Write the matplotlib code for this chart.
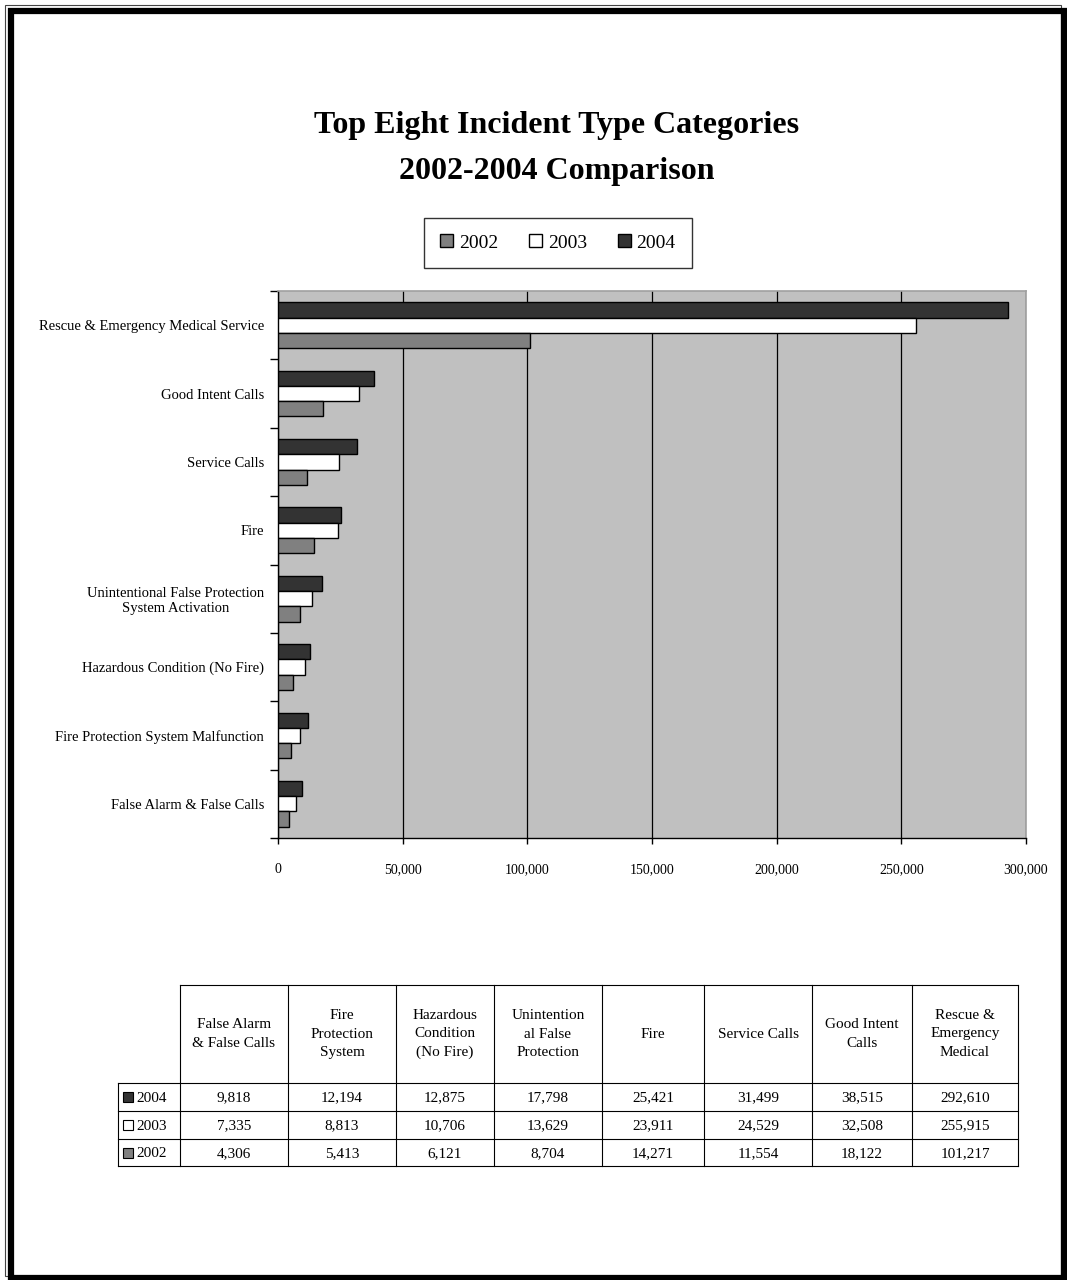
import matplotlib
matplotlib.use("Agg")
import matplotlib.pyplot as plt
from matplotlib.patches import Patch, Rectangle
import numpy as np

plt.rcParams["font.family"] = ["Liberation Serif", "DejaVu Serif"]

# categories, bottom to top as drawn on the chart
categories = [
    "False Alarm & False Calls",
    "Fire Protection System Malfunction",
    "Hazardous Condition (No Fire)",
    "Unintentional False Protection\nSystem Activation",
    "Fire",
    "Service Calls",
    "Good Intent Calls",
    "Rescue & Emergency Medical Service",
]
table_headers = [
    "False Alarm\n& False Calls",
    "Fire\nProtection\nSystem",
    "Hazardous\nCondition\n(No Fire)",
    "Unintention\nal False\nProtection",
    "Fire",
    "Service Calls",
    "Good Intent\nCalls",
    "Rescue &\nEmergency\nMedical",
]
years = ["2002", "2003", "2004"]
v2002 = [4306, 5413, 6121, 8704, 14271, 11554, 18122, 101217]
v2003 = [7335, 8813, 10706, 13629, 23911, 24529, 32508, 255915]
v2004 = [9818, 12194, 12875, 17798, 25421, 31499, 38515, 292610]
xticks = [0, 50000, 100000, 150000, 200000, 250000, 300000]

COLORS = {"2002": "#808080", "2003": "#FFFFFF", "2004": "#333333"}
W, H = 1067, 1280

fig = plt.figure(figsize=(W / 100, H / 100), dpi=100)

# page overlay in pixel coordinates
page = fig.add_axes([0, 0, 1, 1], zorder=-1)
page.set_xlim(0, W)
page.set_ylim(H, 0)
page.axis("off")
page.add_patch(Rectangle((5, 5), 1056, 1271, fill=False, lw=0.8, ec="#444444"))
page.add_patch(Rectangle((11, 11), 1053, 1267, fill=False, lw=4.5, ec="black"))

# bar chart
left, right, top, bottom = 278, 1026, 291, 838
ax = fig.add_axes([left / W, 1 - bottom / H, (right - left) / W, (bottom - top) / H])
ax.set_facecolor("#C0C0C0")
y = np.arange(len(categories))
h = 0.223
for vals, yr, off in [(v2004, "2004", h), (v2003, "2003", 0), (v2002, "2002", -h)]:
    ax.barh(y + off, vals, height=h, color=COLORS[yr], edgecolor="black",
            linewidth=1.0, zorder=3)

ax.set_xlim(0, 300000)
ax.set_ylim(-0.5, len(categories) - 0.5)
ax.set_xticks(xticks)
ax.set_xticklabels([f"{t:,}" for t in xticks], fontsize=10)
ax.xaxis.grid(True, color="black", lw=0.9, zorder=1)
ax.tick_params(axis="x", length=4, width=1, pad=14)

ax.set_yticks(np.arange(-0.5, len(categories)), labels=[""] * (len(categories) + 1))
ax.set_yticks(y, minor=True)
ax.set_yticklabels(categories, minor=True, fontsize=10.5, multialignment="center")
ax.tick_params(axis="y", which="major", length=6, width=1)
ax.tick_params(axis="y", which="minor", length=0, pad=10)

for s in ["top", "right"]:
    ax.spines[s].set_color("#A0A0A0")
    ax.spines[s].set_linewidth(1.2)
for s in ["left", "bottom"]:
    ax.spines[s].set_color("black")
    ax.spines[s].set_linewidth(1.0)

# title
page.text(557, 125, "Top Eight Incident Type Categories", ha="center", va="center",
          fontsize=23, fontweight="bold")
page.text(557, 172, "2002-2004 Comparison", ha="center", va="center",
          fontsize=23, fontweight="bold")

# legend
handles = [Patch(facecolor=COLORS[yr], edgecolor="black", lw=1.0, label=yr) for yr in years]
leg = fig.legend(handles=handles, ncol=3, loc="center",
                 bbox_to_anchor=(558 / W, 1 - 243 / H), fontsize=14,
                 frameon=True, fancybox=False, edgecolor="black",
                 handlelength=0.65, handleheight=0.65, handletextpad=0.3,
                 columnspacing=1.6, borderpad=0.85, borderaxespad=0)
leg.get_frame().set_linewidth(1.0)

# data table
col_edges = [118, 180, 288, 396, 494, 602, 704, 812, 912, 1018]
row_edges = [985, 1083, 1111, 1139, 1166]
lw = 0.8
# header row (no cell above the row labels)
page.plot([col_edges[1], col_edges[-1]], [row_edges[0], row_edges[0]], color="black", lw=lw)
for r in row_edges[1:]:
    page.plot([col_edges[0], col_edges[-1]], [r, r], color="black", lw=lw)
page.plot([col_edges[0], col_edges[0]], [row_edges[1], row_edges[-1]], color="black", lw=lw)
for c in col_edges[1:]:
    page.plot([c, c], [row_edges[0], row_edges[-1]], color="black", lw=lw)

for i, head in enumerate(table_headers):
    cx = (col_edges[i + 1] + col_edges[i + 2]) / 2
    page.text(cx, (row_edges[0] + row_edges[1]) / 2, head, ha="center", va="center",
              fontsize=11, linespacing=1.55)

rows = [("2004", v2004), ("2003", v2003), ("2002", v2002)]
for j, (yr, vals) in enumerate(rows):
    cy = (row_edges[j + 1] + row_edges[j + 2]) / 2
    page.add_patch(Rectangle((123, cy - 5), 10, 10, facecolor=COLORS[yr],
                             edgecolor="black", lw=0.8))
    page.text(136, cy + 1, yr, ha="left", va="center", fontsize=11)
    for i, v in enumerate(vals):
        cx = (col_edges[i + 1] + col_edges[i + 2]) / 2
        page.text(cx, cy + 1, f"{v:,}", ha="center", va="center", fontsize=11)

fig.savefig("out.png", dpi=100)
